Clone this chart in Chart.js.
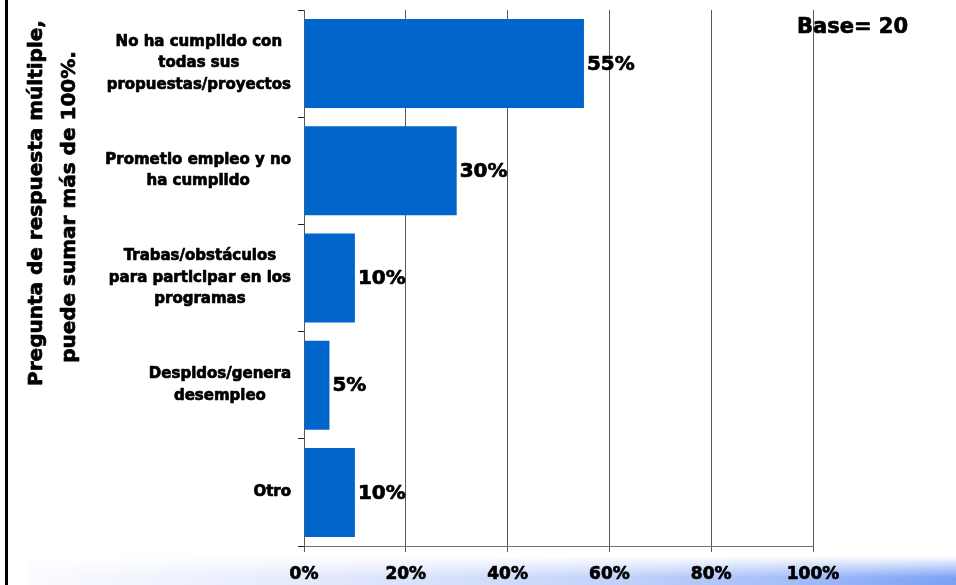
<!DOCTYPE html>
<html>
<head>
<meta charset="utf-8">
<script src="https://cdn.jsdelivr.net/npm/chart.js@4"></script>
<style>
  html, body { margin: 0; padding: 0; background: #fff; }
  canvas { display: block; }
</style>
</head>
<body>
<canvas id="grafico" width="956" height="585"></canvas>
<script>
// --- datos ---
const categorias = [
    ['No ha cumplido con', 'todas sus', 'propuestas/proyectos'],
    ['Prometio empleo y no', 'ha cumplido'],
    ['Trabas/obstáculos', 'para participar en los', 'programas'],
    ['Despidos/genera', 'desempleo'],
    ['Otro']
];
const porcentajes = [55, 30, 10, 5, 10];
const tituloEje = ['Pregunta de respuesta múltiple,', 'puede sumar más de 100%.'];
const textoBase = 'Base= 20';

const FUENTE = '"DejaVu Sans", Verdana, sans-serif';
const TRAZO = 0.7; // engrosa un poco el texto negrita

// fondo: borde izquierdo y franja degradada abajo
const fondo = {
    id: 'fondo',
    beforeDraw(chart) {
        const ctx = chart.ctx;
        ctx.save();
        const g = ctx.createLinearGradient(28, 0, 956, 0);
        g.addColorStop(0, '#fbfbff');
        g.addColorStop(0.3, '#e4eafd');
        g.addColorStop(0.55, '#ccd9fb');
        g.addColorStop(0.8, '#a7c0f8');
        g.addColorStop(1, '#7ba1f5');
        ctx.fillStyle = g;
        ctx.fillRect(28, 556, 928, 29);
        const v = ctx.createLinearGradient(0, 556, 0, 585);
        v.addColorStop(0, 'rgba(255,255,255,1)');
        v.addColorStop(0.75, 'rgba(255,255,255,0)');
        ctx.fillStyle = v;
        ctx.fillRect(28, 556, 928, 29);
        ctx.fillStyle = '#000';
        ctx.fillRect(5, 0, 3, 585);
        ctx.restore();
    }
};

function texto(ctx, t, x, y) {
    ctx.strokeText(t, x, y);
    ctx.fillText(t, x, y);
}

// textos: etiquetas de categorías, valores, título del eje y base
const textos = {
    id: 'textos',
    afterDraw(chart) {
        const ctx = chart.ctx;
        const yScale = chart.scales.y;
        ctx.save();
        ctx.fillStyle = '#000';
        ctx.strokeStyle = '#000';
        ctx.lineWidth = TRAZO;
        ctx.lineJoin = 'round';

        // etiquetas de categorías
        ctx.font = 'bold 15px ' + FUENTE;
        ctx.textAlign = 'center';
        ctx.textBaseline = 'middle';
        const lh = 21.5;
        categorias.forEach(function (lineas, i) {
            const yc = yScale.getPixelForValue(i);
            const ancho = Math.max.apply(null, lineas.map(l => ctx.measureText(l).width));
            const cx = yScale.right - 13 - ancho / 2;
            const y0 = yc - (lineas.length - 1) * lh / 2;
            lineas.forEach(function (l, j) {
                texto(ctx, l, cx, y0 + j * lh);
            });
        });

        // valores al final de cada barra
        ctx.font = 'bold 20px ' + FUENTE;
        ctx.textAlign = 'left';
        chart.getDatasetMeta(0).data.forEach(function (bar, i) {
            texto(ctx, porcentajes[i] + '%', bar.x + 3, bar.y + 1);
        });

        // título del eje vertical
        ctx.font = 'bold 20px ' + FUENTE;
        ctx.textAlign = 'center';
        ctx.save();
        ctx.translate(37, 203);
        ctx.rotate(-Math.PI / 2);
        texto(ctx, tituloEje[0], 0, 0);
        ctx.restore();
        ctx.save();
        ctx.translate(70, 207);
        ctx.rotate(-Math.PI / 2);
        texto(ctx, tituloEje[1], 0, 0);
        ctx.restore();

        // base
        ctx.font = 'bold 21px ' + FUENTE;
        ctx.textAlign = 'left';
        texto(ctx, textoBase, 797, 28);

        ctx.restore();
    }
};

new Chart(document.getElementById('grafico').getContext('2d'), {
    type: 'bar',
    data: {
        labels: categorias,
        datasets: [{
            data: porcentajes,
            backgroundColor: '#0066CC',
            borderWidth: 0,
            barPercentage: 0.83,
            categoryPercentage: 1
        }]
    },
    options: {
        indexAxis: 'y',
        responsive: false,
        animation: false,
        devicePixelRatio: 1,
        layout: { padding: { top: 10, right: 143, bottom: 0, left: 0 } },
        plugins: {
            legend: { display: false },
            tooltip: { enabled: false }
        },
        scales: {
            x: {
                min: 0,
                max: 100,
                afterFit: function (s) { s.height = 39; },
                ticks: {
                    stepSize: 20,
                    color: '#000',
                    padding: 12,
                    textStrokeColor: '#000',
                    textStrokeWidth: TRAZO,
                    font: { family: FUENTE, size: 17, weight: 'bold' },
                    callback: v => v + '%'
                },
                grid: { color: '#5a5a5a', lineWidth: 1, tickLength: 6, drawTicks: true },
                border: { color: '#707070', width: 1 }
            },
            y: {
                afterFit: function (s) { s.width = 304; },
                ticks: { display: false },
                grid: { drawOnChartArea: false, drawTicks: true, tickLength: 6, color: '#222', offset: true },
                border: { color: '#5a5a5a', width: 1 }
            }
        }
    },
    plugins: [fondo, textos]
});
</script>
</body>
</html>
